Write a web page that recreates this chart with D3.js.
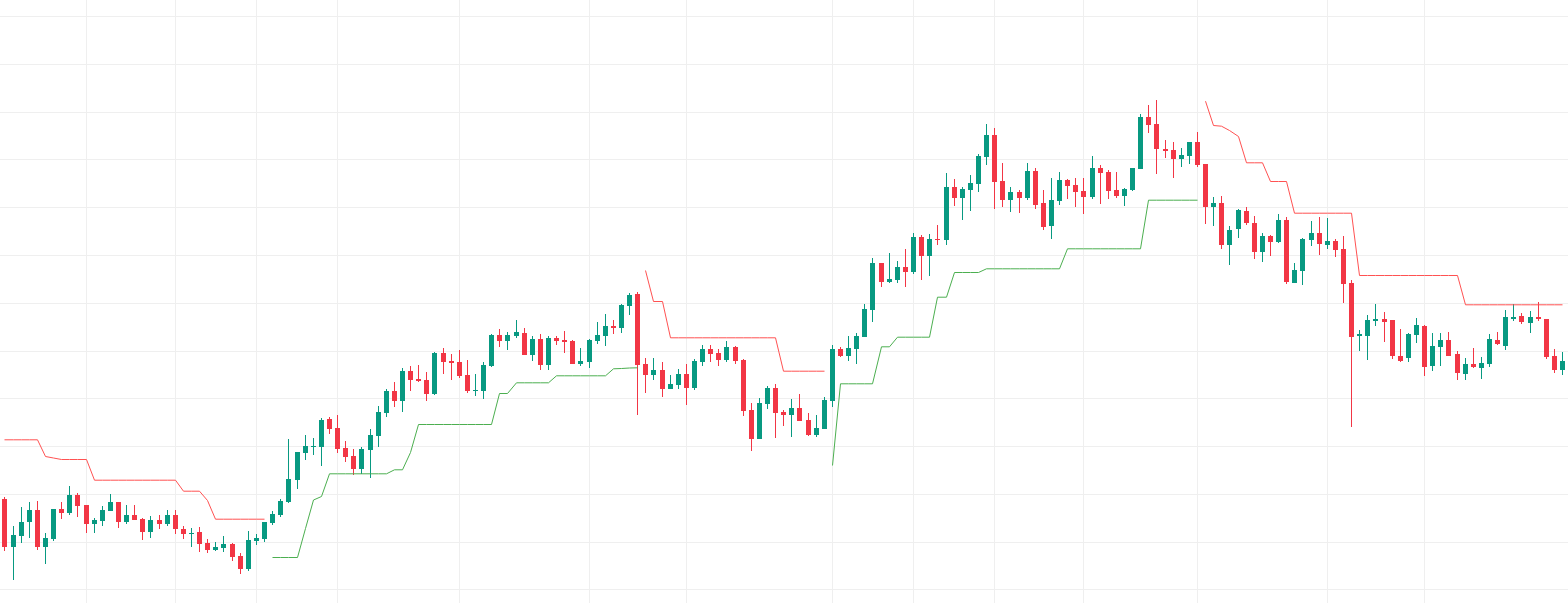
<!DOCTYPE HTML>
<html lang="en">
	<head>
		<meta charset="UTF-8">
		<style>
			body { margin: 0; background: #fff; }
			svg { display: block; }
			.grid line { stroke: #efefef; stroke-width: 1px; shape-rendering: crispEdges; }
			.candle rect { shape-rendering: crispEdges; }
			.band { fill: none; stroke-width: 1px; }
		</style>
	</head>
	<body>
		<script src="https://d3js.org/d3.v7.min.js"></script>
		<script>
			// candles, oldest first
			var opens = [150.5,126.7,132.2,139,145,126.7,130.7,145.5,143.7,152.5,
				147.5,138.2,139.7,144.7,149,139.2,142.5,140.7,134.2,140,
				138.2,142.5,135.7,133.2,134.2,128.7,125.2,126.2,128.2,122.2,
				115.7,129.7,130.7,138.7,142.5,149,160.2,173.7,176.7,176.7,
				190.5,186,176,172,165.5,175,182,193.7,204.5,199.5,
				214.5,210.5,210,203,223.5,219.5,219,212.5,204.5,204.5,
				217,232.5,229.5,232,233.5,222.5,230.5,217.5,231,230,
				229.5,218,219,229.5,232,237,236,247,253,218,
				212.5,215,205.7,207.5,213,206.2,219,225.5,223.5,220,
				226.5,220,195,180.7,198,206.2,194,192.7,196,190,
				182.7,185.7,199.7,225.5,222,225.5,231.5,245,268.5,259,
				260,266.5,264,281.5,272,280.7,280,306.5,301,305,
				308,321.5,332.5,309.5,300,304,301,314.5,298.5,287,
				299.5,310,307.5,304.5,301.5,316,314,305,302,305,
				315.5,341.5,338,325.5,325,320.5,322,329,318,296.5,
				298.5,277.5,285.5,294.5,288.5,274,282,279,290,258.5,
				264.5,280,283.5,277.5,279.5,275.5,258.5,232,232,239.5,
				240.5,240,222,221,232.5,237,217,226.5,230,223,
				213,218,216,218,230,227,240.5,242,238.5,241.5,
				240.5,222,215];
			var highs = [151.5,137,146.5,149,149.5,133.5,145.5,149,157,153.5,
				147.5,141,147,153,149,147.5,147.5,141.2,142,142.5,
				145,145,137.2,136.2,136.7,130.7,129.2,132.2,128.7,123.7,
				134.7,133.2,139.2,144.7,150.5,180.5,174,182.5,181,191,
				191.7,192.5,179.5,175.5,176.5,185.5,197,205.5,209,216,
				217,217.5,214,224,226,223,225,220,213,219,
				233,235.5,234,240,236,232,233,232,232,234.5,
				230,226,230.5,239,243,240,248,253.5,254,221,
				221,219,212.5,215.5,218,220.5,227.5,227.5,225.5,229.5,
				227,220.5,198.5,201,207.2,208,195.2,200.5,203,193.5,
				192.5,201.7,227.5,226.5,232,233.5,248,271,268.5,273.5,
				269.5,275.5,283.5,282.5,283,287.5,313.5,310.5,306.5,312.5,
				323,338,336,318.5,306.5,305,318.5,316,305,311,
				314,310.5,311,311,322,317.5,315,314,306,316,
				343,347.5,350,330,329,326,329,334,318,301.5,
				302,287,295.5,296.5,292,283.5,282.5,293,291.5,268.5,
				281,289.5,291.5,291,280.5,282,260,235,242.5,248,
				244,240,235.5,233.5,241,237.5,233.5,233.5,234,224.5,
				221,226,221.5,233,234,245,248,243.5,244.5,249,
				240.5,225.5,224];
			var lows = [124.7,110.2,128.7,131.2,125.2,118.2,129.7,140.7,142.7,141.7,
				133.7,133.7,137.2,144.7,136.2,138.2,140.2,130.2,131.2,135.7,
				137.2,133.2,130.7,126.7,124.2,123.7,124.7,124.2,119.7,113.2,
				114.7,127.7,129.2,137.7,141.5,148.5,155.5,170,172.5,167.2,
				183,173.5,169,162.5,163,161,176.5,191.5,196.5,194,
				204.5,209,199.5,202.5,213,210,211,203.5,202,200.5,
				216.5,226.5,225,231,222.5,219.5,215,215,227.5,223.5,
				218,217,216,228,227,233,233.5,242.5,192.5,203.5,
				210,201.7,205.7,205.7,197.5,205.2,217,219,217,219,
				218,192.2,174.7,180.7,195.7,181.2,187.2,181.7,189.7,182.2,
				181.7,185.7,196.7,221.5,219.5,218,231.5,239,256.5,258.5,
				258.5,256.5,263,260,262,277.5,277.5,297,290,294.5,
				304,317.5,295.5,296.5,294,293.5,300,295.5,285,280.5,
				297.5,300.5,296.5,293,300.5,298,300.5,301,297,304.5,
				315.5,333.5,313,321,311,316.5,318,316.5,288,287,
				275.5,267.5,281,287.5,270.5,269,272,278.5,258,258.5,
				257.5,277,272.5,275.5,271.5,248.5,186.5,224.5,220,237,
				229,220.5,219,219,228.5,212,214.5,217,222,210,
				210,216,210.5,216.5,227.5,225,239.5,238,233.5,239.5,
				220.5,213.5,212.5];
			var closes = [126.7,132.5,139,145,126.7,131,145.5,143.7,152.5,147,
				138.2,140,145,149,139.2,142.5,140.2,134.2,140,138.2,
				142.5,135.7,133.2,133.7,128.2,125.2,126.7,128.2,121.7,115.7,
				130.2,131.2,139.2,143,149.5,160.5,174,177,177,190,
				185.5,175.5,171.5,165.5,175.5,182.5,194,204.5,199.5,214.5,
				210,209.5,203,223.5,219,218.7,212,204.5,205,217.5,
				232.5,229.5,232.5,234,222.5,230.5,217.5,231,229.5,229,
				218,219.5,230,232.5,237,236,247.5,252.5,217.5,212.5,
				215,205.7,208,213,206.2,219.5,225.5,223.2,220,226.5,
				219.5,194.7,180.7,198.5,206.2,193.7,192.7,196,189.7,182.7,
				186,200,225.5,222,226,232,245.5,268.5,259,260.5,
				266.5,264,281.5,272,280.5,280.2,306.5,301,305.5,308.5,
				322,332.5,309,300,304,301,314.5,297.5,286.5,300,
				310,307,304,301.5,316,313.5,304.5,302,305.5,316,
				341.5,337.5,325.5,324.5,320.5,322.5,329,317.5,296.5,298.5,
				277.5,285,295,288.5,274,282,279,290,259,265,
				280.5,283.5,278,279.5,275,258,231.5,233,240,240.5,
				239,222,219.5,233,237.5,216.5,227,230,222,213.5,
				218,216.5,218.5,230.5,228,241.5,241.5,239,241.5,240.5,
				221.5,215,219.5];

			// supertrend bands (null where the other side is active)
			var upperBand = [180.35,180.35,180.35,180.35,180.35,172,171.25,170.5,170.5,170.5,
				170.5,160.15,160.15,160.15,160.15,160.15,160.15,160.15,160.15,160.15,
				160.15,160.15,154.65,154.65,154.65,150,140.65,140.65,140.65,140.65,
				140.65,140.65,140.65,null,null,null,null,null,null,null,
				null,null,null,null,null,null,null,null,null,null,
				null,null,null,null,null,null,null,null,null,null,
				null,null,null,null,null,null,null,null,null,null,
				null,null,null,null,null,null,null,null,null,265,
				249.5,249.5,231.35,231.35,231.35,231.35,231.35,231.35,231.35,231.35,
				231.35,231.35,231.35,231.35,231.35,231.35,214.65,214.65,214.65,214.65,
				214.65,214.65,null,null,null,null,null,null,null,null,
				null,null,null,null,null,null,null,null,null,null,
				null,null,null,null,null,null,null,null,null,null,
				null,null,null,null,null,null,null,null,null,null,
				null,null,null,null,null,null,null,null,349.65,337.5,
				337.15,335,332,318.85,318.85,318.85,309.5,309.5,309.5,293.65,
				293.65,293.65,293.65,293.65,293.65,293.65,293.65,262.5,262.5,262.5,
				262.5,262.5,262.5,262.5,262.5,262.5,262.5,262.5,262.5,262.5,
				247.85,247.85,247.85,247.85,247.85,247.85,247.85,247.85,247.85,247.85,
				247.85,247.85,247.85];
			var lowerBand = [null,null,null,null,null,null,null,null,null,null,
				null,null,null,null,null,null,null,null,null,null,
				null,null,null,null,null,null,null,null,null,null,
				null,null,null,121.5,121.5,121.5,121.5,136,150.25,152,
				163.35,163.35,163.35,163.35,163.35,163.35,163.35,163.35,165.35,165.35,
				174,188,188,188,188,188,188,188,188,188,
				188,203.5,203.5,208.85,208.85,208.85,208.85,208.85,212.35,212.35,
				212.35,212.35,212.35,212.35,212.35,215.85,216,216.25,216.35,null,
				null,null,null,null,null,null,null,null,null,null,
				null,null,null,null,null,null,null,null,null,null,
				null,null,167.5,208.35,208.35,208.35,208.35,208.35,226.85,226.85,
				231.65,231.65,231.65,231.65,231.65,251.65,251.65,264,264,264,
				264,265.85,265.85,265.85,265.85,265.85,265.85,265.85,265.85,265.85,
				265.85,275.85,275.85,275.85,275.85,275.85,275.85,275.85,275.85,275.85,
				275.85,300.15,300.15,300.15,300.15,300.15,300.15,300.15,null,null,
				null,null,null,null,null,null,null,null,null,null,
				null,null,null,null,null,null,null,null,null,null,
				null,null,null,null,null,null,null,null,null,null,
				null,null,null,null,null,null,null,null,null,null,
				null,null,null];

			// grid: price levels and candle indexes of the time ticks
			var priceGrid = [392,368,344,320.5,296.5,272.5,248.5,224.5,201,177,153,129,105.5];
			var timeGrid = [10,21,31,41,56,72,84,102,112,122,133,147,163,175];

			var width = 1568, height = 603
				,upColor = '#089981', downColor = '#f23645'
				,n = opens.length;

			var svg = d3.select('body').append('svg')
				.attr('width', width).attr('height', height);

			var x = d3.scaleLinear().domain([0, n - 1]).range([4.95, 4.95 + (n - 1) * 8.1125]);
			var y = d3.scaleLinear().domain([100, 400]).range([600, 0]);
			var col = function(i) { return Math.floor(x(i)); };

			var grid = svg.append('g').attr('class', 'grid');
			grid.selectAll('.h').data(priceGrid).enter().append('line')
				.attr('class', 'h')
				.attr('x1', 0).attr('x2', width)
				.attr('y1', function(d) { return Math.round(y(d)) + 0.5; })
				.attr('y2', function(d) { return Math.round(y(d)) + 0.5; });
			grid.selectAll('.v').data(timeGrid).enter().append('line')
				.attr('class', 'v')
				.attr('y1', 0).attr('y2', height)
				.attr('x1', function(d) { return col(d) + 0.5; })
				.attr('x2', function(d) { return col(d) + 0.5; });

			var candles = d3.range(n).map(function(i) {
				return {i: i, o: opens[i], h: highs[i], l: lows[i], c: closes[i]};
			});

			var candle = svg.append('g').selectAll('.candle')
				.data(candles).enter().append('g')
				.attr('class', 'candle')
				.attr('fill', function(d) { return d.c >= d.o ? upColor : downColor; });

			candle.append('rect')
				.attr('x', function(d) { return col(d.i); })
				.attr('width', 1)
				.attr('y', function(d) { return Math.round(y(d.h)); })
				.attr('height', function(d) { return Math.max(1, Math.round(y(d.l)) - Math.round(y(d.h))); });

			candle.append('rect')
				.attr('x', function(d) { return col(d.i) - 2; })
				.attr('width', 5)
				.attr('y', function(d) { return Math.round(y(Math.max(d.o, d.c))); })
				.attr('height', function(d) {
					return Math.max(1, Math.round(y(Math.min(d.o, d.c))) - Math.round(y(Math.max(d.o, d.c))));
				});

			var band = d3.line()
				.defined(function(d) { return d != null; })
				.x(function(d, i) { return col(i) + 0.5; })
				.y(function(d) { return y(d) + 0.5; });

			svg.append('path').attr('class', 'band')
				.attr('stroke', '#ff5252')
				.attr('d', band(upperBand));
			svg.append('path').attr('class', 'band')
				.attr('stroke', '#4caf50')
				.attr('d', band(lowerBand));
		</script>
	</body>
</html>
